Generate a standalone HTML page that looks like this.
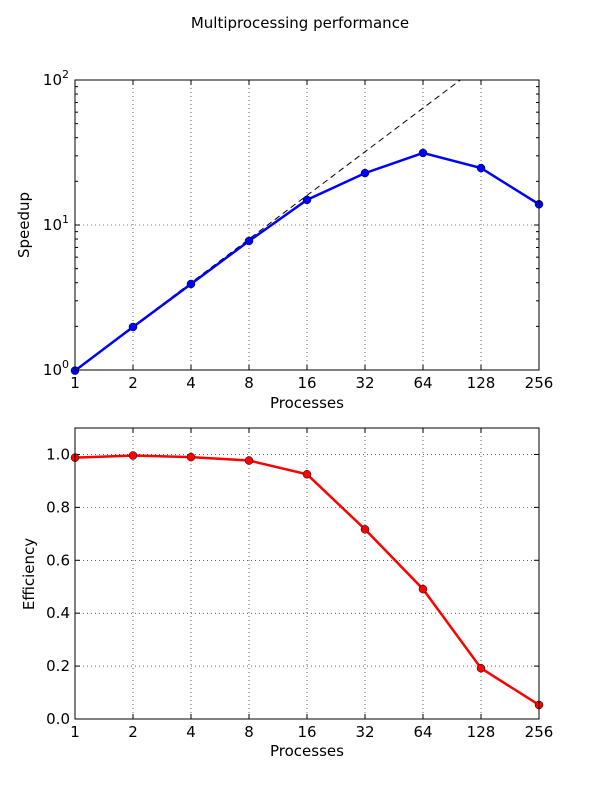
<!DOCTYPE html>
<html><head><meta charset="utf-8"><style>
body{margin:0;background:#fff;}
svg text{font-family:"DejaVu Sans","Liberation Sans",sans-serif;fill:#000;}
</style></head><body>
<svg id="chart" width="600" height="800" viewBox="0 0 600 800">
<rect width="600" height="800" fill="#fff"/>
<text x="300" y="28" text-anchor="middle" font-size="15">Multiprocessing performance</text>
<g id="topPanel"></g>
<g id="botPanel"></g>
</svg>
<script>
const processes=[1,2,4,8,16,32,64,128,256];
const speedup=[0.99,1.98,3.92,7.76,14.9,22.8,31.4,24.7,13.9];
const efficiency=[0.988,0.996,0.99,0.977,0.925,0.717,0.491,0.192,0.053];
const xTickLabels=["1","2","4","8","16","32","64","128","256"];
const effTicks=[0,0.2,0.4,0.6,0.8,1.0];
const effTickLabels=["0.0","0.2","0.4","0.6","0.8","1.0"];
const speedTicks=[1,10,100];

const NS="http://www.w3.org/2000/svg";
function mk(parent,tag,attrs,text){const e=document.createElementNS(NS,tag);for(const k in attrs)e.setAttribute(k,attrs[k]);if(text!==undefined)e.textContent=text;parent.appendChild(e);return e;}
const L=75,R=539;
const xs=p=>L+(R-L)*Math.log2(p)/8;

// top panel
const topG=document.getElementById('topPanel');
const T1=80,B1=370;
const ys1=v=>B1-(B1-T1)*Math.log10(v)/2;
const cp=mk(topG,'clipPath',{id:'c1'});
mk(cp,'rect',{x:L,y:T1,width:R-L,height:B1-T1});
processes.forEach((p,i)=>{
 const g=mk(topG,'line',{x1:xs(p),x2:xs(p),y1:T1,y2:B1,stroke:'#000','stroke-width':0.6,'stroke-dasharray':'1,3'});
 
 mk(topG,'line',{x1:xs(p),x2:xs(p),y1:B1,y2:B1-5,stroke:'#000'});
 mk(topG,'line',{x1:xs(p),x2:xs(p),y1:T1,y2:T1+5,stroke:'#000'});
 const t=mk(topG,'text',{x:xs(p),y:B1+18,'text-anchor':'middle','font-size':15},xTickLabels[i]);
 
});
speedTicks.forEach((v,i)=>{
 const y=ys1(v);
 if(i>0&&i<speedTicks.length-1){const g=mk(topG,'line',{x1:L,x2:R,y1:y,y2:y,stroke:'#000','stroke-width':0.6,'stroke-dasharray':'1,3'});}
 mk(topG,'line',{x1:L,x2:L+5,y1:y,y2:y,stroke:'#000'});
 mk(topG,'line',{x1:R,x2:R-5,y1:y,y2:y,stroke:'#000'});
 const t=mk(topG,'text',{x:L-6,y:y+5,'text-anchor':'end','font-size':15});
 
 mk(t,'tspan',{},'10');mk(t,'tspan',{dy:-7,'font-size':11},String(i));
 if(i<speedTicks.length-1)for(let m=2;m<10;m++){const yy=ys1(v*m);mk(topG,'line',{x1:L,x2:L+3,y1:yy,y2:yy,stroke:'#000'});mk(topG,'line',{x1:R,x2:R-3,y1:yy,y2:yy,stroke:'#000'});}
});
const ideal=mk(topG,'line',{x1:xs(1),y1:ys1(1),x2:xs(256),y2:ys1(256),stroke:'#000','stroke-dasharray':'6,4','clip-path':'url(#c1)'});

const sl=mk(topG,'polyline',{points:processes.map((p,i)=>xs(p)+','+ys1(speedup[i])).join(' '),fill:'none',stroke:'#0000ff','stroke-width':2.5,'clip-path':'url(#c1)'});

processes.forEach((p,i)=>{const c=mk(topG,'circle',{cx:xs(p),cy:ys1(speedup[i]),r:4,fill:'#0000ff',stroke:'#000','stroke-width':0.5});});
mk(topG,'rect',{x:L,y:T1,width:R-L,height:B1-T1,fill:'none',stroke:'#000'});
const xl1=mk(topG,'text',{x:307,y:408,'text-anchor':'middle','font-size':15},'Processes');
const yl1=mk(topG,'text',{x:29,y:225,'text-anchor':'middle','font-size':15,transform:'rotate(-90 29 225)'},'Speedup');

// bottom panel
const botG=document.getElementById('botPanel');
const T2=428,B2=719;
const ys2=v=>B2-(B2-T2)*v/1.1;
processes.forEach((p,i)=>{
 const g=mk(botG,'line',{x1:xs(p),x2:xs(p),y1:T2,y2:B2,stroke:'#000','stroke-width':0.6,'stroke-dasharray':'1,3'});
 
 mk(botG,'line',{x1:xs(p),x2:xs(p),y1:B2,y2:B2-5,stroke:'#000'});
 mk(botG,'line',{x1:xs(p),x2:xs(p),y1:T2,y2:T2+5,stroke:'#000'});
 const t=mk(botG,'text',{x:xs(p),y:B2+18,'text-anchor':'middle','font-size':15},xTickLabels[i]);
 
});
effTicks.forEach((v,i)=>{
 const y=ys2(v);
 if(i>0){const g=mk(botG,'line',{x1:L,x2:R,y1:y,y2:y,stroke:'#000','stroke-width':0.6,'stroke-dasharray':'1,3'});}
 mk(botG,'line',{x1:L,x2:L+5,y1:y,y2:y,stroke:'#000'});
 mk(botG,'line',{x1:R,x2:R-5,y1:y,y2:y,stroke:'#000'});
 const t=mk(botG,'text',{x:L-5,y:y+5,'text-anchor':'end','font-size':15},effTickLabels[i]);
 
});
const el=mk(botG,'polyline',{points:processes.map((p,i)=>xs(p)+','+ys2(efficiency[i])).join(' '),fill:'none',stroke:'#ff0000','stroke-width':2.5});

processes.forEach((p,i)=>{const c=mk(botG,'circle',{cx:xs(p),cy:ys2(efficiency[i]),r:4,fill:'#ff0000',stroke:'#000','stroke-width':0.5});});
mk(botG,'rect',{x:L,y:T2,width:R-L,height:B2-T2,fill:'none',stroke:'#000'});
const xl2=mk(botG,'text',{x:307,y:756,'text-anchor':'middle','font-size':15},'Processes');
const yl2=mk(botG,'text',{x:34,y:574,'text-anchor':'middle','font-size':15,transform:'rotate(-90 34 574)'},'Efficiency');
</script>
</body></html>
